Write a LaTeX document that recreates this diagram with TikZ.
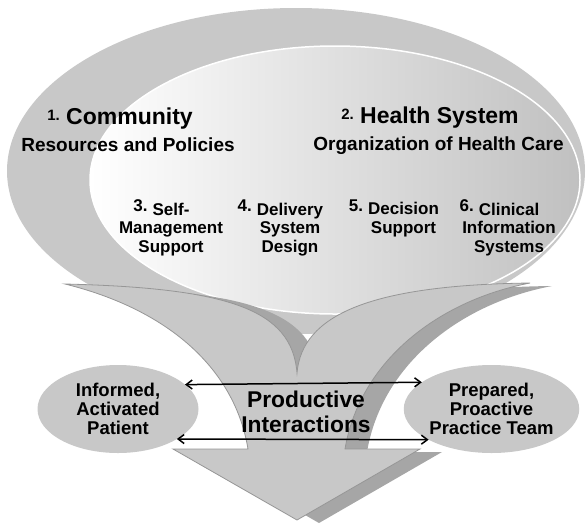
\documentclass[tikz,border=0pt]{standalone}
\usepackage{fontspec}
\setmainfont{Liberation Sans}
\usetikzlibrary{shapes.geometric,arrows.meta}
\definecolor{ringgray}{RGB}{200,200,200}
\definecolor{ovalshade}{RGB}{192,192,192}
\definecolor{shadowgray}{RGB}{166,166,166}
\definecolor{edgegray}{RGB}{150,150,150}
\newcommand{\headnum}[1]{\raisebox{4pt}{\fontsize{15}{15}\selectfont #1}}
\newcommand{\hangnum}[1]{\llap{\raisebox{3.5pt}{#1}\hspace{5pt}}}
\def\bigarrowpath{(65,284) .. controls (230,288) and (292,310) .. (297,373)
  .. controls (302,315) and (370,285) .. (530,283)
  .. controls (440,300) and (360,360) .. (345,449)
  -- (420,449) -- (297,520) -- (173,449) -- (248,449)
  .. controls (235,370) and (170,310) .. (65,284) -- cycle}

\begin{document}
\begin{tikzpicture}[x=1pt, y=-1pt,
    heading/.style={font=\fontsize{23}{23}\selectfont\bfseries, anchor=base, inner sep=0},
    subheading/.style={font=\fontsize{19}{19}\selectfont\bfseries, anchor=base, inner sep=0},
    element/.style={font=\fontsize{17}{18.5}\selectfont\bfseries, align=center, anchor=base, inner sep=0},
    actor/.style={ellipse, fill=ringgray, minimum width=161pt, minimum height=88pt, inner sep=0,
      outer sep=0, align=center, font=\fontsize{18.5}{19}\selectfont\bfseries},
    focus/.style={font=\fontsize{22.8}{25}\selectfont\bfseries, align=center, anchor=base, inner sep=0},
    link/.style={{Straight Barb[length=6pt,width=9pt]}-{Straight Barb[length=6pt,width=9pt]}, line width=1.5pt}
]
\useasboundingbox (0,0) rectangle (586,523);

% The two ovals of the system
\fill[ringgray] (296,171) ellipse [x radius=289pt, y radius=163pt];
\shadedraw[left color=white, middle color=gray!8, right color=ovalshade, draw=white, line width=1.5pt]
  (335,180) ellipse [x radius=245pt, y radius=134pt];

% Big arrow and its shadow
\begin{scope}[xshift=22pt, yshift=-3pt]
  \fill[shadowgray] \bigarrowpath;
\end{scope}
\filldraw[fill=ringgray, draw=edgegray, line width=0.8pt] \bigarrowpath;

% Elements (base = last line)
\node[heading] (com) at (120,124) {\headnum{1.} Community};
\node[subheading] (comsub) at (128,151) {Resources and Policies};
\node[heading] (hs) at (430,123) {\headnum{2.} Health System};
\node[subheading] (hssub) at (438.5,150) {Organization of Health Care};

\node[element] (sms) at (171,252) {\hangnum{3.}Self-\\Management\\Support};
\node[element] (dsd) at (290,252) {\hangnum{4.}Delivery\\System\\Design};
\node[element] (ds) at (403.5,233) {\hangnum{5.}Decision\\Support};
\node[element] (cis) at (509,252) {\hangnum{6.}Clinical\\Information\\Systems};

% Interactions
\node[actor] (pat) at (118,409) {Informed,\\Activated\\Patient};
\node[actor] (team) at (491.5,409) {Prepared,\\Proactive\\Practice Team};
\node[focus] (prod) at (306,432) {Productive\\Interactions};

\draw[link] (pat.20.6) -- (team.159.4);
\draw[link] (pat.333.2) -- (team.206.8);

\end{tikzpicture}
\end{document}
